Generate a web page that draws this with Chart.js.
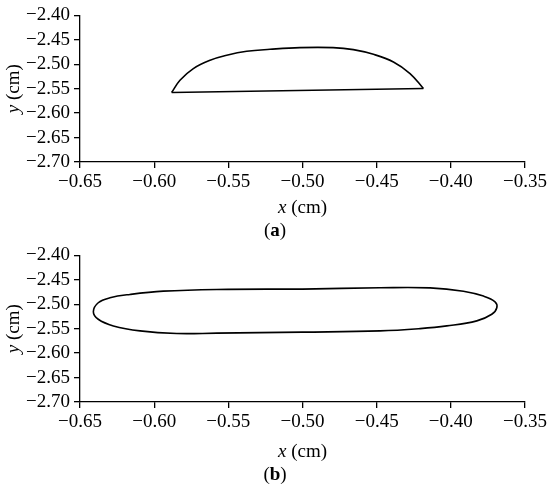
<!DOCTYPE html>
<html>
<head>
<meta charset="utf-8">
<script src="https://cdn.jsdelivr.net/npm/chart.js@4.4.0/dist/chart.umd.min.js"></script>
<style>
  html, body { margin: 0; padding: 0; background: #fff; }
  .box { position: absolute; left: 0; width: 550px; }
  #boxA { top: 0; height: 240px; }
  #boxB { top: 240px; height: 247px; }
</style>
</head>
<body>
<div class="box" id="boxA"><canvas id="chartA"></canvas></div>
<div class="box" id="boxB"><canvas id="chartB"></canvas></div>
<script>
// tick values (cm)
const xTicks = [-0.65, -0.60, -0.55, -0.50, -0.45, -0.40, -0.35];
const yTicks = [-2.40, -2.45, -2.50, -2.55, -2.60, -2.65, -2.70];

// (a) upper arc, left corner to right corner
const arcAx = [-0.5882, -0.5826, -0.5736, -0.5623, -0.5511, -0.5376, -0.5219, -0.5017, -0.4794, -0.4657, -0.4522, -0.4387, -0.4275, -0.4185];
const arcAy = [-2.5578, -2.5327, -2.5088, -2.4918, -2.4816, -2.4735, -2.4694, -2.4659, -2.4659, -2.4700, -2.4796, -2.4953, -2.5190, -2.5496];
// (a) straight bottom edge
const chordAx = [-0.5882, -0.4185];
const chordAy = [-2.5578, -2.5496];

// (b) closed outline, starting on the upper edge and going clockwise
const loopBx = [-0.5000, -0.4477, -0.4140, -0.3915, -0.3780, -0.3702, -0.3690, -0.3724, -0.3825, -0.4027, -0.4207, -0.4477, -0.5000, -0.5578, -0.5848, -0.6095, -0.6275, -0.6377, -0.6410, -0.6377, -0.6298, -0.6163, -0.5938, -0.5578, -0.5000];
const loopBy = [-2.4690, -2.4663, -2.4665, -2.4732, -2.4833, -2.4949, -2.5070, -2.5205, -2.5340, -2.5443, -2.5498, -2.5545, -2.5570, -2.5591, -2.5599, -2.5545, -2.5443, -2.5307, -2.5152, -2.4969, -2.4868, -2.4799, -2.4732, -2.4697, -2.4690];

const FONT = 'Liberation Serif, Times New Roman, serif';

function pts(xs, ys) {
	return xs.map((x, i) => ({x: x, y: ys[i]}));
}

function fmt(v) {
	return v.toFixed(2).replace('-', '\u2212');
}

function drawParts(ctx, parts, cx, cy) {
	let total = 0;
	parts.forEach(p => { ctx.font = p.font; total += ctx.measureText(p.text).width; });
	let x = cx - total / 2;
	parts.forEach(p => {
		ctx.font = p.font;
		ctx.fillText(p.text, x, cy);
		x += ctx.measureText(p.text).width;
	});
}

const labelsPlugin = {
	id: 'axisLabels',
	afterDraw(chart, args, opts) {
		const ctx = chart.ctx;
		const area = chart.chartArea;
		ctx.save();
		ctx.fillStyle = '#000';
		ctx.textBaseline = 'middle';
		ctx.textAlign = 'left';
		const reg = '19px ' + FONT;
		const ita = 'italic 19px ' + FONT;
		const bold = 'bold 19px ' + FONT;
		// x title
		drawParts(ctx, [{text: 'x', font: ita}, {text: ' (cm)', font: reg}], (area.left + area.right) / 2, opts.xTitleY);
		// caption
		drawParts(ctx, [{text: '(', font: reg}, {text: opts.caption, font: bold}, {text: ')', font: reg}], chart.width / 2, opts.captionY);
		// y title
		ctx.translate(14, (area.top + area.bottom) / 2);
		ctx.rotate(-Math.PI / 2);
		drawParts(ctx, [{text: 'y', font: ita}, {text: ' (cm)', font: reg}], 0, 0);
		ctx.restore();
	}
};

function makeChart(id, datasets, caption, topPad, xHeight, xTitleY, captionY) {
	return new Chart(document.getElementById(id), {
		type: 'scatter',
		data: {datasets: datasets},
		plugins: [labelsPlugin],
		options: {
			responsive: true,
			maintainAspectRatio: false,
			animation: false,
			layout: {padding: {top: topPad, right: 25, left: 0, bottom: 0}},
			plugins: {
				legend: {display: false},
				tooltip: {enabled: false},
				axisLabels: {caption: caption, xTitleY: xTitleY, captionY: captionY}
			},
			scales: {
				x: {
					type: 'linear',
					min: -0.65,
					max: -0.35,
					afterBuildTicks: s => { s.ticks = xTicks.map(v => ({value: v})); },
					afterFit: s => { s.height = xHeight; },
					grid: {drawOnChartArea: false, drawTicks: true, tickLength: 6, color: '#000', lineWidth: 1.3},
					border: {display: true, color: '#000', width: 1.3},
					ticks: {color: '#000', padding: 3, maxRotation: 0, autoSkip: false, font: {family: FONT, size: 19}, callback: v => fmt(v)}
				},
				y: {
					type: 'linear',
					min: -2.70,
					max: -2.40,
					afterBuildTicks: s => { s.ticks = yTicks.map(v => ({value: v})); },
					afterFit: s => { s.width = 80; },
					grid: {drawOnChartArea: false, drawTicks: true, tickLength: 6, color: '#000', lineWidth: 1.3},
					border: {display: true, color: '#000', width: 1.3},
					ticks: {color: '#000', padding: 4, autoSkip: false, font: {family: FONT, size: 19}, callback: v => fmt(v)}
				}
			}
		}
	});
}

const lineStyle = {showLine: true, pointRadius: 0, borderColor: '#000', borderWidth: 1.6, fill: false};

makeChart('chartA', [
	Object.assign({data: pts(arcAx, arcAy), tension: 0.4}, lineStyle),
	Object.assign({data: pts(chordAx, chordAy), tension: 0}, lineStyle)
], 'a', 15, 78, 208, 231);

makeChart('chartB', [
	Object.assign({data: pts(loopBx, loopBy), tension: 0.4}, lineStyle)
], 'b', 14, 85, 212, 235);
</script>
</body>
</html>
